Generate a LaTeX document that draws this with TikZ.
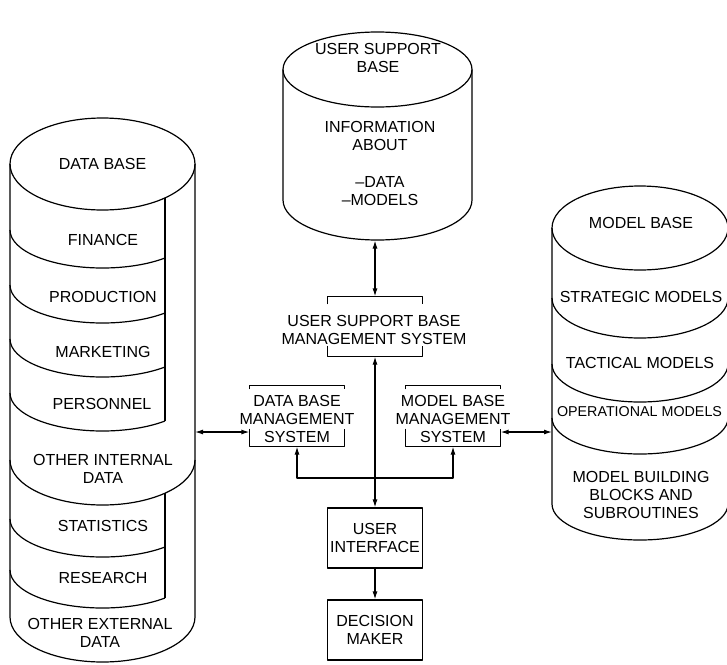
\documentclass[tikz,border=0pt]{standalone}
\usepackage{fontspec}
\setmainfont{Liberation Sans}
\usetikzlibrary{arrows.meta}
\begin{document}
\begin{tikzpicture}[x=1pt,y=-1pt,
  line width=1.2pt, line join=round,
  txt/.style={font=\fontsize{16}{18}\selectfont, align=center, inner sep=0pt},
  bbox/.style={draw=none, inner sep=0pt},
  tipbox/.style={draw, txt, minimum width=95pt, minimum height=60pt},
  arr/.style={{Latex[length=8pt,width=5pt]}-{Latex[length=8pt,width=5pt]}},
  arrone/.style={-{Latex[length=8pt,width=5pt]}}]
\useasboundingbox (0,0) rectangle (727,664);

% ---------------- DATA BASE cylinder ----------------
\draw (102.5,164) ellipse [x radius=92.5pt, y radius=46pt];
\draw (10,164) -- (10,617) arc[start angle=180, end angle=360, x radius=92.5pt, y radius=45pt] -- (195,164);
\draw (165,198) -- (165,421);
\foreach \c in {230,285,339,393}
  \draw (10,\c) arc[start angle=180, end angle=312.5, x radius=92.5pt, y radius=38pt];
\draw (10,460) arc[start angle=180, end angle=360, x radius=92.5pt, y radius=45pt];
\draw (165,493) -- (165,598);
\foreach \c in {519,570}
  \draw (10,\c) arc[start angle=180, end angle=312.5, x radius=92.5pt, y radius=38pt];

\node[txt] (tdb)   at (102.5,164) {DATA BASE};
\node[txt] (tfin)  at (103,240) {FINANCE};
\node[txt] (tprod) at (103,297) {PRODUCTION};
\node[txt] (tmark) at (103,352) {MARKETING};
\node[txt] (tpers) at (102,404) {PERSONNEL};
\node[txt] (toid)  at (103,469) {OTHER INTERNAL\\DATA};
\node[txt] (tstat) at (103,526) {STATISTICS};
\node[txt] (tres)  at (103,578) {RESEARCH};
\node[txt] (toed)  at (100,632.5) {OTHER EXTERNAL\\DATA};

% ---------------- USER SUPPORT BASE cylinder ----------------
\draw (377.5,69.5) ellipse [x radius=94.5pt, y radius=37.5pt];
\draw (283,69.5) -- (283,200) arc[start angle=180, end angle=360, x radius=94.5pt, y radius=40pt] -- (472,69.5);
\node[txt] (tusb)  at (378,58) {USER SUPPORT\\BASE};
\node[txt] (tinfo) at (380,136) {INFORMATION\\ABOUT};
\node[txt] (tdm)   at (380,191) {\char"2013\relax DATA\\\char"2013\relax MODELS};

% ---------------- MODEL BASE cylinder ----------------
\draw (640,228) ellipse [x radius=88pt, y radius=42pt];
\draw (552,228) -- (552,504) arc[start angle=180, end angle=360, x radius=88pt, y radius=36pt] -- (728,228);
\foreach \c/\r in {298/40, 364/38, 418/36}
  \draw (552,\c) arc[start angle=180, end angle=360, x radius=88pt, y radius=\r pt];
\node[txt] (tmb)   at (641,223) {MODEL BASE};
\node[txt] (tstr)  at (641,297) {STRATEGIC MODELS};
\node[txt] (ttac)  at (640,363) {TACTICAL MODELS};
\node[txt, font=\fontsize{14.3}{18}\selectfont] (topm) at (639.5,412) {OPERATIONAL MODELS};
\node[txt] (tmbb)  at (641,495) {MODEL BUILDING\\BLOCKS AND\\SUBROUTINES};

% ---------------- management systems (brackets) ----------------
\node[bbox, minimum width=94pt, minimum height=59pt] (usbms) at (375,326.5) {};
\node[txt] (tusbms) at (374,330) {USER SUPPORT BASE\\MANAGEMENT SYSTEM};
\draw (usbms.north west) ++(0pt,-8pt) -- (usbms.north west) -- (usbms.north east) -- ++(0pt,-8pt);
\draw (usbms.south west) ++(0pt,11pt) -- (usbms.south west) -- (usbms.south east) -- ++(0pt,11pt);

\node[bbox, minimum width=94pt, minimum height=60pt] (dbms) at (297,416) {};
\node[txt] (tdbms) at (297,419) {DATA BASE\\MANAGEMENT\\SYSTEM};
\draw (dbms.north west) ++(0pt,-4pt) -- (dbms.north west) -- (dbms.north east) -- ++(0pt,-4pt);
\draw (dbms.south west) ++(0pt,18pt) -- (dbms.south west) -- (dbms.south east) -- ++(0pt,18pt);

\node[bbox, minimum width=94pt, minimum height=60pt] (mbms) at (453,416) {};
\node[txt] (tmbms) at (453,419) {MODEL BASE\\MANAGEMENT\\SYSTEM};
\draw (mbms.north west) ++(0pt,-4pt) -- (mbms.north west) -- (mbms.north east) -- ++(0pt,-4pt);
\draw (mbms.south west) ++(0pt,18pt) -- (mbms.south west) -- (mbms.south east) -- ++(0pt,18pt);

% ---------------- boxes ----------------
\node[tipbox] (ui) at (375,538) {USER\\INTERFACE};
\node[tipbox] (dm) at (375,630) {DECISION\\MAKER};

% ---------------- connector end points ----------------
\coordinate (usbB) at (375,240.5);
\coordinate (dbR) at (195,432);
\coordinate (mbL) at (552,432);
\coordinate (corrL) at (297,478);
\coordinate (corrR) at (453,478);

% ---------------- connectors ----------------
\draw[arr] (usbB) -- (usbms.north);
\draw[arr] (usbms.south) -- (ui.north);
\draw[arr] (dbR) -- (dbR -| dbms.west);
\draw[arr] (mbL -| mbms.east) -- (mbL);
\draw[arr] (dbms.south) -- (corrL) -- (corrR) -- (mbms.south);
\draw[arrone] (ui.south) -- (dm.north);
\end{tikzpicture}
\end{document}
